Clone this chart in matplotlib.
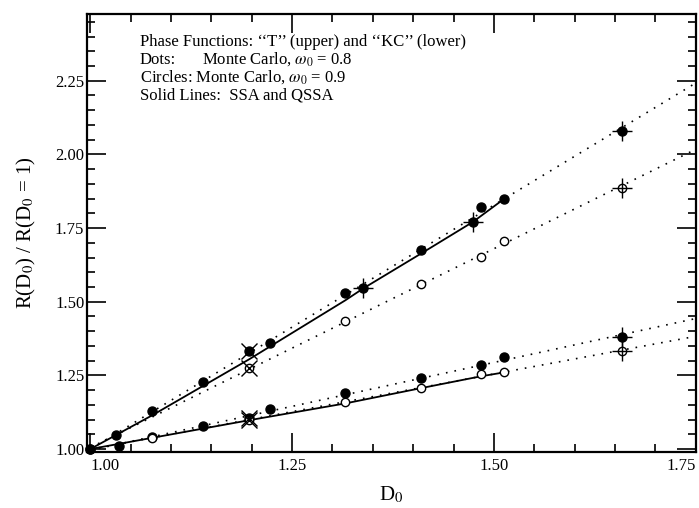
import numpy as np
import matplotlib
matplotlib.use("Agg")
import matplotlib.pyplot as plt
from matplotlib.ticker import MultipleLocator

plt.rcParams['font.family'] = ['Liberation Serif', 'DejaVu Serif']
plt.rcParams['mathtext.fontset'] = 'stix'

# Monte Carlo, "T" phase function
t_x = [1.0, 1.032, 1.077, 1.140, 1.197, 1.222, 1.316, 1.410, 1.484, 1.512, 1.659]
t_dots = [1.0, 1.048, 1.130, 1.226, 1.334, 1.359, 1.528, 1.675, 1.820, 1.848, 2.080]
t_circ_x = [1.0, 1.197, 1.316, 1.410, 1.484, 1.512, 1.659]
t_circles = [1.0, 1.274, 1.435, 1.560, 1.653, 1.707, 1.887]

# Monte Carlo, "KC" phase function
kc_x = [1.0, 1.035, 1.077, 1.140, 1.197, 1.222, 1.316, 1.410, 1.484, 1.512, 1.659]
kc_dots = [1.0, 1.010, 1.042, 1.079, 1.104, 1.135, 1.189, 1.240, 1.285, 1.312, 1.379]
kc_circ_x = [1.0, 1.077, 1.197, 1.316, 1.410, 1.484, 1.512, 1.659]
kc_circles = [1.0, 1.038, 1.098, 1.160, 1.208, 1.254, 1.260, 1.333]

# SSA / QSSA curves
ssa_t_x = [1.0, 1.077, 1.197, 1.316, 1.338, 1.410, 1.474, 1.512]
ssa_t_y = [1.0, 1.115, 1.305, 1.505, 1.545, 1.664, 1.771, 1.848]
ssa_kc_x = [1.0, 1.197, 1.316, 1.410, 1.484, 1.512]
ssa_kc_y = [1.0, 1.098, 1.155, 1.207, 1.247, 1.260]

# points carrying error crosses
plus_x = [1.338, 1.474]
plus_y = [1.545, 1.771]

fig = plt.figure(figsize=(6.99, 5.08), dpi=100)
ax = fig.add_axes([0.1245, 0.1102, 0.871, 0.862])

# dotted linear fits through each Monte Carlo set
xfit = np.array([1.0, 1.75])
dot_style = dict(color='black', lw=1.2, linestyle=(0, (1, 4.2)))
for xs, ys in [(t_x, t_dots), (t_circ_x, t_circles), (kc_x, kc_dots), (kc_circ_x, kc_circles)]:
    p = np.poly1d(np.polyfit(xs, ys, 1))
    ax.plot(xfit, p(xfit), **dot_style)

ax.plot(ssa_t_x, ssa_t_y, color='black', lw=1.3)
ax.plot(ssa_kc_x, ssa_kc_y, color='black', lw=1.3)

ax.plot(t_x, t_dots, 'o', color='black', ms=6.5, clip_on=False, zorder=5)
ax.plot(kc_x, kc_dots, 'o', color='black', ms=6.5, clip_on=False, zorder=5)
ax.plot(t_circ_x[1:], t_circles[1:], 'o', mfc='white', mec='black', mew=1.0, ms=6, zorder=5)
ax.plot(kc_circ_x[1:], kc_circles[1:], 'o', mfc='white', mec='black', mew=1.0, ms=6, zorder=5)
ax.plot(plus_x, plus_y, 'o', color='black', ms=6.5, zorder=5)

# error crosses
ax.plot(plus_x, plus_y, '+', color='black', ms=14, mew=1.0, zorder=6)
ax.plot([1.659] * 4, [t_dots[-1], t_circles[-1], kc_dots[-1], kc_circles[-1]],
        '+', color='black', ms=15, mew=1.0, zorder=6)
ax.plot([1.197] * 4, [t_dots[4], t_circles[1], kc_dots[4], kc_circles[2]],
        'x', color='black', ms=11, mew=1.0, zorder=6)

ax.set_xlim(0.996, 1.75)
ax.set_ylim(0.99, 2.476)
ax.xaxis.set_minor_locator(MultipleLocator(0.05))
ax.yaxis.set_minor_locator(MultipleLocator(0.05))
ax.set_xticks([1.0, 1.25, 1.5, 1.75])
ax.set_xticklabels(['1.00', '1.25', '1.50', '1.75'])
ax.set_yticks([1.0, 1.25, 1.5, 1.75, 2.0, 2.25])
ax.set_yticklabels(['1.00', '1.25', '1.50', '1.75', '2.00', '2.25'])
ax.tick_params(which='both', direction='in', top=True, right=True, labelsize=12, width=1.2)
ax.tick_params(which='major', length=14, pad=4)
ax.tick_params(axis='y', which='major', pad=2)
ax.tick_params(which='minor', length=6)
xl = ax.get_xticklabels()
xl[0].set_horizontalalignment('left')
xl[-1].set_horizontalalignment('right')
for s in ax.spines.values():
    s.set_linewidth(1.6)

ax.set_xlabel('D$_0$', fontsize=15, labelpad=8)
ax.set_ylabel('R(D$_0$) / R(D$_0$ = 1)', fontsize=15, labelpad=12)

fs = 12
ax.text(0.087, 0.928, 'Phase Functions: \u2018\u2018T\u2019\u2019 (upper) and \u2018\u2018KC\u2019\u2019 (lower)',
        fontsize=fs, transform=ax.transAxes)
ax.text(0.087, 0.886, 'Dots:', fontsize=fs, transform=ax.transAxes)
ax.text(0.189, 0.886, r'Monte Carlo, $\omega_0$ = 0.8', fontsize=fs, transform=ax.transAxes)
ax.text(0.087, 0.845, r'Circles: Monte Carlo, $\omega_0$ = 0.9', fontsize=fs, transform=ax.transAxes)
ax.text(0.087, 0.804, 'Solid Lines:  SSA and QSSA', fontsize=fs, transform=ax.transAxes)

fig.savefig('out.png', dpi=100)
